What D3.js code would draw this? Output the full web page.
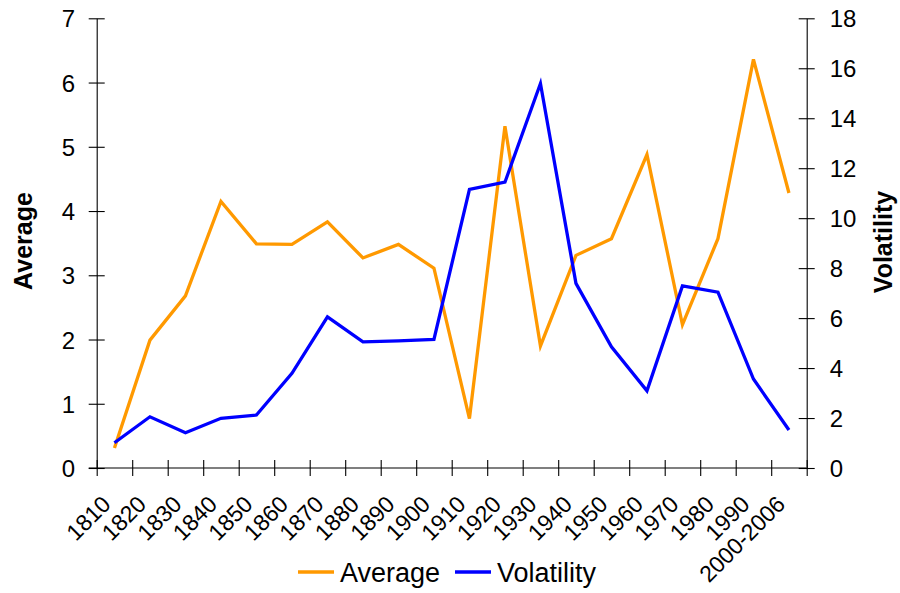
<!DOCTYPE html>
<html><head><meta charset="utf-8">
<script src="https://cdn.jsdelivr.net/npm/d3@7"></script>
<style>body{margin:0;background:#fff}svg{display:block;font-family:"Liberation Sans",Arial,sans-serif}</style>
</head><body><svg id="c" width="900" height="593"></svg>
<script>
const categories = ["1810","1820","1830","1840","1850","1860","1870","1880","1890","1900","1910","1920","1930","1940","1950","1960","1970","1980","1990","2000-2006"];
const average = [0.31,1.99,2.68,4.15,3.49,3.48,3.83,3.27,3.48,3.11,0.77,5.32,1.90,3.31,3.57,4.88,2.23,3.57,6.36,4.28];
const volatility = [1.01,2.05,1.41,1.99,2.12,3.79,6.05,5.05,5.09,5.15,11.15,11.44,15.39,7.39,4.85,3.09,7.29,7.04,3.56,1.52];
const leftTicks = [0,1,2,3,4,5,6,7];
const rightTicks = [0,2,4,6,8,10,12,14,16,18];

const svg = d3.select("#c");
const L = 96.7, R = 806.7, T = 18.3, B = 468;
const x = d3.scaleLinear().domain([0, categories.length]).range([L, R]);
const yL = d3.scaleLinear().domain([0, 7]).range([B, T]);
const yR = d3.scaleLinear().domain([0, 18]).range([B, T]);
const fs = 24;

function styleAxis(g){
  g.select(".domain").attr("stroke","#000").attr("stroke-width",1.1);
  g.selectAll(".tick line").attr("stroke","#000").attr("stroke-width",1.1);
}
// left axis
const gl = svg.append("g").attr("transform",`translate(${L},0)`)
  .call(d3.axisLeft(yL).tickValues(leftTicks).tickFormat(d3.format("d")).tickSize(0).tickPadding(21.5).tickSizeOuter(0));
gl.selectAll(".tick line").attr("x1",-8).attr("x2",8);
gl.selectAll(".tick text").attr("font-size",fs).attr("fill","#000").attr("dy","0.36em");
gl.attr("font-family",null);
styleAxis(gl);
// right axis
const gr = svg.append("g").attr("transform",`translate(${R},0)`)
  .call(d3.axisRight(yR).tickValues(rightTicks).tickFormat(d3.format("d")).tickSize(0).tickPadding(23).tickSizeOuter(0));
gr.selectAll(".tick line").attr("x1",-8).attr("x2",8);
gr.selectAll(".tick text").attr("font-size",fs).attr("fill","#000").attr("dy","0.36em");
gr.attr("font-family",null);
styleAxis(gr);
// bottom axis
const gb = svg.append("g").attr("transform",`translate(0,${B})`)
  .call(d3.axisBottom(x).tickValues(d3.range(categories.length+1)).tickFormat("").tickSize(0).tickSizeOuter(0));
gb.selectAll(".tick line").attr("y1",-8).attr("y2",8);
styleAxis(gb);
gb.select(".domain").attr("d",`M${L-8},0H${R}`);

// category labels
svg.append("g").selectAll("text").data(categories).join("text")
  .attr("transform",(d,i)=>`translate(${x(i+0.5)-14},${B+26}) rotate(-45)`)
  .attr("text-anchor","end").attr("dy","0.72em").attr("font-size",23).attr("fill","#000")
  .text(d=>d);

// lines
const lineL = d3.line().x((d,i)=>x(i+0.5)).y(d=>yL(d));
const lineR = d3.line().x((d,i)=>x(i+0.5)).y(d=>yR(d));
svg.append("path").datum(average).attr("d",lineL).attr("fill","none").attr("stroke","#FF9900").attr("stroke-width",3.3);
svg.append("path").datum(volatility).attr("d",lineR).attr("fill","none").attr("stroke","#0000FF").attr("stroke-width",3.3);

// axis titles
svg.append("text").attr("transform","translate(32,241) rotate(-90)").attr("text-anchor","middle")
  .attr("font-size",25).attr("font-weight","bold").text("Average");
svg.append("text").attr("transform","translate(892,242) rotate(-90)").attr("text-anchor","middle")
  .attr("font-size",25).attr("font-weight","bold").text("Volatility");

// legend
const legend = [{name:"Average",color:"#FF9900",x:298},{name:"Volatility",color:"#0000FF",x:455}];
const lg = svg.append("g").selectAll("g").data(legend).join("g").attr("transform",d=>`translate(${d.x},572)`);
lg.append("line").attr("x1",0).attr("x2",36).attr("stroke",d=>d.color).attr("stroke-width",3.3);
lg.append("text").attr("x",42).attr("dy","0.36em").attr("font-size",27).text(d=>d.name);
</script></body></html>
